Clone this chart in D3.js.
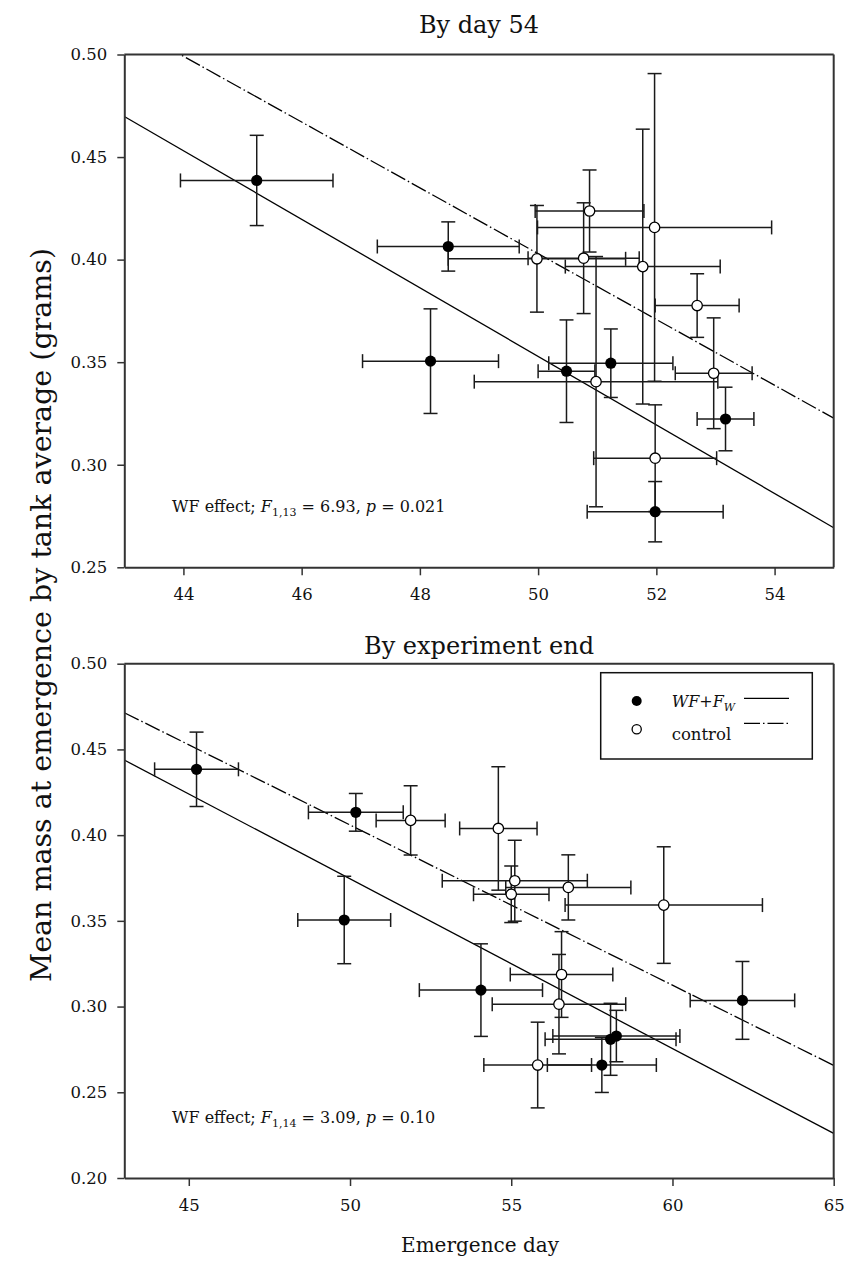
<!DOCTYPE html>
<html>
<head>
<meta charset="utf-8">
<script src="https://cdn.jsdelivr.net/npm/d3@7"></script>
<style>
  body { margin: 0; background: #fff; }
  svg { display: block; font-family: "DejaVu Serif", serif; }
</style>
</head>
<body>
<svg id="chart" width="848" height="1264"></svg>
<script>
// ---- By day 54: WF+Fw tanks (filled) ----
const day54WfX    = [45.24, 48.48, 48.18, 50.48, 51.23, 51.98, 53.17];
const day54WfXErr = [1.29, 1.20, 1.15, 0.48, 1.05, 1.15, 0.48];
const day54WfY    = [0.4386, 0.4064, 0.3505, 0.3456, 0.3495, 0.2771, 0.3223];
const day54WfYErr = [0.022, 0.012, 0.0255, 0.025, 0.0167, 0.0147, 0.0155];

// ---- By day 54: control tanks (open) ----
const day54CtlX    = [49.98, 50.77, 50.87, 51.97, 51.77, 52.69, 52.97, 50.98, 51.98];
const day54CtlXErr = [1.50, 0.94, 0.92, 1.98, 1.31, 0.71, 0.65, 2.06, 1.04];
const day54CtlY    = [0.4004, 0.4007, 0.4237, 0.4157, 0.3966, 0.3776, 0.3446, 0.3405, 0.3032];
const day54CtlYErr = [0.026, 0.027, 0.020, 0.075, 0.067, 0.0155, 0.027, 0.061, 0.026];

// ---- By experiment end: WF+Fw tanks ----
const endWfX    = [45.24, 50.18, 49.82, 54.06, 57.81, 58.08, 58.26, 62.17];
const endWfXErr = [1.30, 1.47, 1.44, 1.91, 1.69, 2.03, 1.97, 1.62];
const endWfY    = [0.4384, 0.4133, 0.3505, 0.3096, 0.2659, 0.2809, 0.2828, 0.3036];
const endWfYErr = [0.0217, 0.011, 0.0255, 0.027, 0.016, 0.021, 0.015, 0.0227];

// ---- By experiment end: control tanks ----
const endCtlX    = [51.88, 54.60, 55.11, 55.00, 56.77, 59.73, 56.56, 56.48, 55.82];
const endCtlXErr = [1.07, 1.20, 2.25, 1.17, 1.94, 3.06, 1.59, 2.07, 1.67];
const endCtlY    = [0.4086, 0.4039, 0.3734, 0.3655, 0.3695, 0.3592, 0.3187, 0.3014, 0.2659];
const endCtlYErr = [0.0202, 0.036, 0.0236, 0.0165, 0.019, 0.034, 0.025, 0.029, 0.025];

// ---- regression lines (end points in data units) ----
const day54FitWf  = [[43, 0.4698], [55, 0.2693]];
const day54FitCtl = [[43, 0.5152], [55, 0.3227]];
const endFitWf    = [[43, 0.4438], [65, 0.2260]];
const endFitCtl   = [[43, 0.4714], [65, 0.2657]];

// ---- axes ----
const day54XDomain = [43, 55];
const day54YDomain = [0.25, 0.50];
const day54XTicks  = [44, 46, 48, 50, 52, 54];
const day54YTicks  = [0.25, 0.30, 0.35, 0.40, 0.45, 0.50];
const endXDomain   = [43, 65];
const endYDomain   = [0.20, 0.50];
const endXTicks    = [45, 50, 55, 60, 65];
const endYTicks    = [0.20, 0.25, 0.30, 0.35, 0.40, 0.45, 0.50];

const day54Title = "By day 54";
const endTitle   = "By experiment end";
const day54Stat  = { df: "1,13", F: "6.93", p: "0.021" };
const endStat    = { df: "1,14", F: "3.09", p: "0.10" };
const legendLabels = ["control"];

const svg = d3.select("#chart");
const L = 124.3, R = 833.7;
const DASH = "16,3,1.5,3";
const AXIS_COL = "#333";

function zip(xs, xe, ys, ye) {
  return xs.map((x, i) => ({ x, xe: xe[i], y: ys[i], ye: ye[i] }));
}

function drawPanel(cfg) {
  const x = d3.scaleLinear().domain(cfg.xDomain).range([L, R]);
  const y = d3.scaleLinear().domain(cfg.yDomain).range([cfg.bottom, cfg.top]);
  const g = svg.append("g");

  const clipId = "clip-" + cfg.id;
  svg.append("clipPath").attr("id", clipId)
    .append("rect").attr("x", L).attr("y", cfg.top)
    .attr("width", R - L).attr("height", cfg.bottom - cfg.top);

  // title
  g.append("text").attr("x", (L + R) / 2).attr("y", cfg.titleY)
    .attr("text-anchor", "middle").attr("font-size", 24).attr("fill", "#111")
    .text(cfg.title);

  // regression lines
  const line = d3.line().x(d => x(d[0])).y(d => y(d[1]));
  const fits = g.append("g").attr("clip-path", `url(#${clipId})`);
  fits.append("path").attr("d", line(cfg.fitWf)).attr("fill", "none")
    .attr("stroke", "#000").attr("stroke-width", 1.3);
  fits.append("path").attr("d", line(cfg.fitCtl)).attr("fill", "none")
    .attr("stroke", "#000").attr("stroke-width", 1.3).attr("stroke-dasharray", DASH);

  // error bars
  const all = cfg.wf.concat(cfg.ctl);
  const eb = g.append("g").attr("stroke", "#1a1a1a").attr("stroke-width", 1.5).attr("fill", "none");
  const cap = 7;
  all.forEach(d => {
    const cx = x(d.x), cy = y(d.y);
    const x0 = x(d.x - d.xe), x1 = x(d.x + d.xe);
    const y0 = y(d.y - d.ye), y1 = y(d.y + d.ye);
    eb.append("line").attr("x1", x0).attr("x2", x1).attr("y1", cy).attr("y2", cy);
    eb.append("line").attr("x1", x0).attr("x2", x0).attr("y1", cy - cap).attr("y2", cy + cap);
    eb.append("line").attr("x1", x1).attr("x2", x1).attr("y1", cy - cap).attr("y2", cy + cap);
    eb.append("line").attr("x1", cx).attr("x2", cx).attr("y1", y0).attr("y2", y1);
    eb.append("line").attr("x1", cx - cap).attr("x2", cx + cap).attr("y1", y0).attr("y2", y0);
    eb.append("line").attr("x1", cx - cap).attr("x2", cx + cap).attr("y1", y1).attr("y2", y1);
  });

  // markers
  g.append("g").selectAll("circle").data(cfg.ctl).join("circle")
    .attr("cx", d => x(d.x)).attr("cy", d => y(d.y)).attr("r", 5.2)
    .attr("fill", "#fff").attr("stroke", "#000").attr("stroke-width", 1.3);
  g.append("g").selectAll("circle").data(cfg.wf).join("circle")
    .attr("cx", d => x(d.x)).attr("cy", d => y(d.y)).attr("r", 5.6)
    .attr("fill", "#000");

  // axes
  const xa = g.append("g").attr("transform", `translate(0,${cfg.bottom})`)
    .call(d3.axisBottom(x).tickValues(cfg.xTicks).tickFormat(d3.format("d"))
      .tickSize(8).tickPadding(13).tickSizeOuter(0));
  const ya = g.append("g").attr("transform", `translate(${L},0)`)
    .call(d3.axisLeft(y).tickValues(cfg.yTicks).tickFormat(d3.format(".2f"))
      .tickSize(7).tickPadding(10).tickSizeOuter(0));
  [xa, ya].forEach(a => {
    a.select(".domain").attr("stroke", AXIS_COL).attr("stroke-width", 2);
    a.selectAll(".tick line").attr("stroke", AXIS_COL).attr("stroke-width", 1.5);
    a.selectAll(".tick text").attr("font-size", 16.5).attr("fill", "#111")
      .attr("font-family", "DejaVu Serif, serif");
  });
  // frame: top and right edges
  g.append("line").attr("x1", L).attr("x2", R).attr("y1", cfg.top).attr("y2", cfg.top)
    .attr("stroke", AXIS_COL).attr("stroke-width", 2);
  g.append("line").attr("x1", R).attr("x2", R).attr("y1", cfg.top).attr("y2", cfg.bottom)
    .attr("stroke", AXIS_COL).attr("stroke-width", 2);

  // statistics note
  const t = g.append("text").attr("x", 172).attr("y", cfg.bottom - 55)
    .attr("font-size", 16).attr("fill", "#111");
  t.append("tspan").text("WF effect; ");
  t.append("tspan").attr("font-style", "italic").text("F");
  t.append("tspan").attr("font-size", 11).attr("dy", 4).text(cfg.stat.df);
  t.append("tspan").attr("dy", -4).text(" = " + cfg.stat.F + ", ");
  t.append("tspan").attr("font-style", "italic").text("p");
  t.append("tspan").text(" = " + cfg.stat.p);
  return { x, y, g };
}

drawPanel({
  id: "day54", title: day54Title, titleY: 33, top: 54.5, bottom: 567.3,
  xDomain: day54XDomain, yDomain: day54YDomain, xTicks: day54XTicks, yTicks: day54YTicks,
  wf: zip(day54WfX, day54WfXErr, day54WfY, day54WfYErr),
  ctl: zip(day54CtlX, day54CtlXErr, day54CtlY, day54CtlYErr),
  fitWf: day54FitWf, fitCtl: day54FitCtl, stat: day54Stat
});

drawPanel({
  id: "end", title: endTitle, titleY: 654, top: 663.7, bottom: 1178,
  xDomain: endXDomain, yDomain: endYDomain, xTicks: endXTicks, yTicks: endYTicks,
  wf: zip(endWfX, endWfXErr, endWfY, endWfYErr),
  ctl: zip(endCtlX, endCtlXErr, endCtlY, endCtlYErr),
  fitWf: endFitWf, fitCtl: endFitCtl, stat: endStat
});

// legend
const lg = svg.append("g");
lg.append("rect").attr("x", 600.7).attr("y", 672.7).attr("width", 211.6).attr("height", 86.3)
  .attr("fill", "#fff").attr("stroke", "#111").attr("stroke-width", 1.5);
lg.append("circle").attr("cx", 636.7).attr("cy", 701).attr("r", 5).attr("fill", "#000");
lg.append("circle").attr("cx", 636.7).attr("cy", 729.3).attr("r", 4.6)
  .attr("fill", "#fff").attr("stroke", "#000").attr("stroke-width", 1.3);
const lt = lg.append("text").attr("x", 671.7).attr("y", 707).attr("font-size", 16)
  .attr("font-style", "italic").attr("fill", "#111");
lt.append("tspan").text("WF+F");
lt.append("tspan").attr("font-size", 11).attr("dy", 4).text("W");
lg.append("text").attr("x", 671.7).attr("y", 740).attr("font-size", 16.5).attr("fill", "#111")
  .text(legendLabels[0]);
lg.append("line").attr("x1", 744).attr("x2", 789).attr("y1", 698.3).attr("y2", 698.3)
  .attr("stroke", "#000").attr("stroke-width", 1.3);
lg.append("line").attr("x1", 744).attr("x2", 789).attr("y1", 723.3).attr("y2", 723.3)
  .attr("stroke", "#000").attr("stroke-width", 1.3).attr("stroke-dasharray", DASH);

// shared axis titles
svg.append("text").attr("transform", "translate(51,615) rotate(-90)")
  .attr("text-anchor", "middle").attr("font-size", 28.5).attr("fill", "#111")
  .text("Mean mass at emergence by tank average (grams)");
svg.append("text").attr("x", 480).attr("y", 1252).attr("text-anchor", "middle")
  .attr("font-size", 20).attr("fill", "#111").text("Emergence day");
</script>
</body>
</html>
